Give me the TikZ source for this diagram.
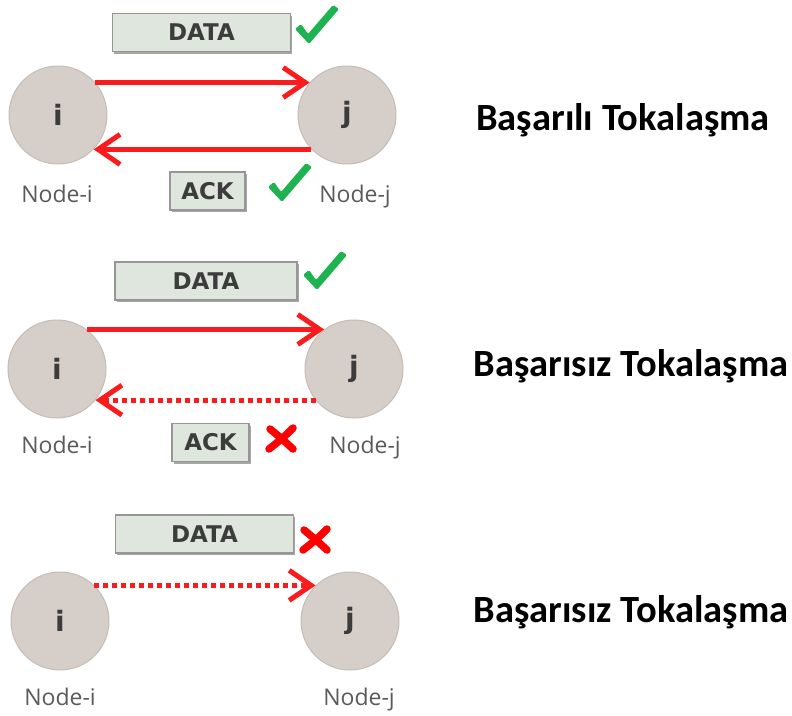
\documentclass[tikz,border=0pt]{standalone}
\usepackage{fontspec}
\usetikzlibrary{arrows.meta,shadows}
\newfontfamily\ttlfont{Carlito}
\newfontfamily\boxfont{DejaVu Sans}
\newfontfamily\lblfont{Open Sans}
\definecolor{arrred}{RGB}{250,28,28}
\definecolor{circfill}{RGB}{214,206,201}
\definecolor{circline}{RGB}{196,188,182}
\definecolor{boxfill}{RGB}{223,230,222}
\definecolor{boxline}{RGB}{150,150,150}
\definecolor{txtdark}{RGB}{60,60,60}
\definecolor{lblgray}{RGB}{90,90,90}
\definecolor{chkgreen}{RGB}{30,178,80}
\definecolor{xred}{RGB}{255,0,0}
\tikzset{
  chk/.pic={\fill[chkgreen, rounded corners=1.5pt] (-13,-13) -- (-7,-18) -- (0,-8) -- (25,-37) -- (31,-33) -- (1,2) -- cycle;},
  xmk/.pic={\draw[xred, line width=7.5pt, line cap=round] (-11,-10) .. controls (0,-1) .. (12,10);
            \draw[xred, line width=7.5pt, line cap=round] (12,-11) .. controls (2,-1) .. (-12,10);}
}
\begin{document}
\begin{tikzpicture}[x=1pt,y=-1pt,
  peer/.style={circle, minimum size=98pt, inner sep=0pt, fill=circfill, draw=circline, line width=1pt,
    font=\boxfont\bfseries\fontsize{28}{30}\selectfont, text=txtdark},
  msg/.style={rectangle, minimum height=38pt, inner sep=0pt, fill=boxfill, draw=boxline, line width=1.2pt,
    font=\boxfont\bfseries\fontsize{23}{26}\selectfont, text=txtdark,
    drop shadow={shadow xshift=1.5pt, shadow yshift=-2pt, opacity=0.35, fill=black}},
  lbl/.style={anchor=base, inner sep=0pt, font=\lblfont\fontsize{23}{26}\selectfont, text=lblgray},
  ttl/.style={anchor=base, inner sep=0pt, font=\ttlfont\bfseries\fontsize{38.5}{42}\selectfont, text=black},
  sendok/.style={draw=arrred, line width=5pt, -{Straight Barb[length=22pt,width=30pt]}},
  sendfail/.style={sendok, dash pattern=on 4.5pt off 4.5pt},
]
\useasboundingbox (0,0) rectangle (792,715);

% Row 1
\node[peer] (i1) at (58,115) {i};
\node[peer] (j1) at (347,115) {j};
\node[msg, minimum width=178pt] (d1) at (201.5,32.5) {DATA};
\node[msg, minimum width=75pt] (a1) at (207.5,191) {ACK};
\node[lbl] (ni1) at (57,202) {Node-i};
\node[lbl] (nj1) at (355,202) {Node-j};
\node[ttl] (t1) at (623,130) {Başarılı Tokalaşma};
\draw[sendok] (i1.41) -- (j1.139);
\draw[sendok] (j1.-136) -- (i1.-44);
\pic at (308,42) {chk};
\pic at (281,200) {chk};

% Row 2
\node[peer] (i2) at (57,369) {i};
\node[peer] (j2) at (354,369) {j};
\node[msg, minimum width=182pt] (d2) at (206,281) {DATA};
\node[msg, minimum width=77pt] (a2) at (210.5,442.5) {ACK};
\node[lbl] (ni2) at (57,453) {Node-i};
\node[lbl] (nj2) at (365,453) {Node-j};
\node[ttl] (t2) at (631,376) {Başarısız Tokalaşma};
\draw[sendok] (i2.53) -- (j2.127);
\draw[sendfail] (j2.-141) -- (i2.-39);
\pic at (316,288) {chk};
\pic at (281,439) {xmk};

% Row 3
\node[peer] (i3) at (60,621) {i};
\node[peer] (j3) at (350,621) {j};
\node[msg, minimum width=178pt] (d3) at (204.5,534) {DATA};
\node[lbl] (ni3) at (60,705) {Node-i};
\node[lbl] (nj3) at (359,705) {Node-j};
\node[ttl] (t3) at (631,622) {Başarısız Tokalaşma};
\draw[sendfail] (i3.46) -- (j3.134);
\pic at (315,540) {xmk};
\end{tikzpicture}
\end{document}
